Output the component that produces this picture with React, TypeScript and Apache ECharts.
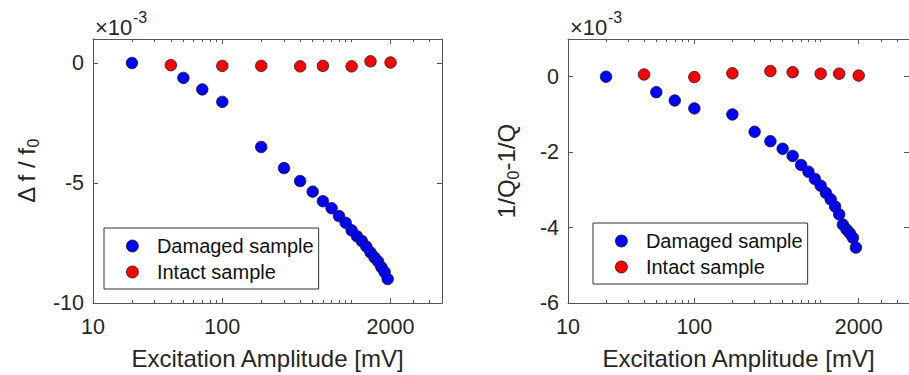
import React, { useEffect, useRef } from "react";
import * as echarts from "echarts";

// ---- data (values of the y axes are in units of 1e-3) ----
const ampDamaged = [20, 50, 70, 100, 200, 300, 400, 500, 600, 700, 800, 900, 1000, 1100, 1200, 1300, 1400, 1500, 1600, 1700, 1800, 1900];
const dfDamaged = [0, -0.62, -1.1, -1.62, -3.5, -4.38, -4.92, -5.36, -5.76, -6.05, -6.38, -6.66, -6.97, -7.22, -7.42, -7.65, -7.89, -8.09, -8.27, -8.51, -8.71, -9.0];
const dqDamaged = [0, -0.41, -0.63, -0.84, -1.0, -1.46, -1.71, -1.91, -2.1, -2.34, -2.52, -2.71, -2.89, -3.08, -3.25, -3.44, -3.65, -3.92, -4.05, -4.15, -4.27, -4.53];
const ampIntact = [40, 100, 200, 400, 600, 1000, 1400, 2000];
const dfIntact = [-0.09, -0.12, -0.12, -0.14, -0.12, -0.14, 0.07, 0.02];
const dqIntact = [0.06, -0.01, 0.09, 0.15, 0.12, 0.08, 0.08, 0.03];

const xTickLabels = [10, 100, 2000];
const xMinorTicks = [20, 30, 40, 50, 60, 70, 80, 90, 200, 300, 400, 500, 600, 700, 800, 900, 1000, 3000, 4000];
const yTicksLeft = [-10, -5, 0];
const yTicksRight = [-6, -4, -2, 0];

const seriesNames = ["Damaged sample", "Intact sample"];
const xName = "Excitation Amplitude [mV]";
const expBase = "×10";
const expPower = "-3";

const FONT = "Liberation Sans";
const TXT = "#262626";
const AX = "#555555";

function pairs(xs: number[], ys: number[]) {
  return xs.map((x, i) => [x, ys[i]]);
}

export default function App() {
  const ref = useRef<HTMLDivElement>(null);
  useEffect(() => {
    document.body.style.margin = "0";
    const chart = echarts.init(ref.current!, null, { renderer: "svg" });

    const grids = [
      { left: 93, top: 39, width: 349, height: 266 },
      { left: 568, top: 39, width: 347, height: 266 },
    ];
    const yConf = [
      { min: -10, max: 1, ticks: yTicksLeft, name: "{a|Δ f / f}{b|0}", gap: 52 },
      { min: -6, max: 1, ticks: yTicksRight, name: "{a|1/Q}{b|0}{a|-1/Q}", gap: 47 },
    ];
    const xAxes: any[] = [];
    const yAxes: any[] = [];
    grids.forEach((_, g) => {
      const base = {
        type: "log",
        logBase: 10,
        min: 10,
        max: 5000,
        gridIndex: g,
        splitLine: { show: false },
      };
      xAxes.push({
        ...base,
        position: "bottom",
        axisLine: { show: true, onZero: false, lineStyle: { color: AX, width: 1 } },
        axisTick: { show: true, inside: true, length: 5, customValues: xTickLabels, lineStyle: { color: AX } },
        axisLabel: {
          show: true,
          customValues: xTickLabels,
          formatter: (v: number) => String(Math.round(v)),
          margin: 13,
          fontSize: 21.5,
          color: TXT,
          fontFamily: FONT,
        },
        name: xName,
        nameLocation: "middle",
        nameGap: 43,
        nameTextStyle: { fontSize: 24, color: TXT, fontFamily: FONT },
      });
      xAxes.push({
        ...base,
        position: "bottom",
        axisLine: { show: false, onZero: false },
        axisTick: { show: true, inside: true, length: 3, customValues: xMinorTicks, lineStyle: { color: AX } },
        axisLabel: { show: false },
      });
      xAxes.push({
        ...base,
        position: "top",
        axisLine: { show: true, onZero: false, lineStyle: { color: AX, width: 1 } },
        axisTick: { show: true, inside: true, length: 5, customValues: xTickLabels, lineStyle: { color: AX } },
        axisLabel: { show: false },
      });
      xAxes.push({
        ...base,
        position: "top",
        axisLine: { show: false, onZero: false },
        axisTick: { show: true, inside: true, length: 3, customValues: xMinorTicks, lineStyle: { color: AX } },
        axisLabel: { show: false },
      });
      const yc = yConf[g];
      yAxes.push({
        type: "value",
        gridIndex: g,
        position: "left",
        min: yc.min,
        max: yc.max,
        splitLine: { show: false },
        axisLine: { show: true, onZero: false, lineStyle: { color: AX, width: 1 } },
        axisTick: { show: true, inside: true, length: 5, customValues: yc.ticks, lineStyle: { color: AX } },
        axisLabel: { show: true, customValues: yc.ticks, margin: 9, fontSize: 21.5, color: TXT, fontFamily: FONT },
        name: yc.name,
        nameLocation: "middle",
        nameRotate: 90,
        nameGap: yc.gap,
        nameTextStyle: {
          color: TXT,
          fontFamily: FONT,
          rich: {
            a: { fontSize: 24, color: TXT, fontFamily: FONT, lineHeight: 30, verticalAlign: "middle" },
            b: { fontSize: 16, color: TXT, fontFamily: FONT, lineHeight: 30, verticalAlign: "bottom" },
          },
        },
      });
      yAxes.push({
        type: "value",
        gridIndex: g,
        position: "right",
        min: yc.min,
        max: yc.max,
        splitLine: { show: false },
        axisLine: { show: true, onZero: false, lineStyle: { color: AX, width: 1 } },
        axisTick: { show: true, inside: true, length: 5, customValues: yc.ticks, lineStyle: { color: AX } },
        axisLabel: { show: false },
      });
    });

    const mk = (name: string, color: string, data: number[][], g: number) => ({
      type: "scatter",
      name,
      xAxisIndex: g * 4,
      yAxisIndex: g * 2,
      data,
      symbol: "circle",
      symbolSize: 11.5,
      itemStyle: { color, borderColor: "#1a1a1a", borderWidth: 0.8, opacity: 1 },
      emphasis: { disabled: true },
    });

    const legendBase = {
      orient: "vertical",
      data: seriesNames,
      icon: "circle",
      itemWidth: 39,
      itemHeight: 12,
      itemGap: 6,
      padding: [8, 5, 7, 22],
      borderColor: "#333",
      borderWidth: 1,
      backgroundColor: "#fff",
      borderRadius: 0,
      selectedMode: false,
      itemStyle: { borderColor: "#1a1a1a", borderWidth: 0.8 },
      textStyle: { fontSize: 20, color: "#111", fontFamily: FONT, lineHeight: 20 },
    };

    const ttl = (x: number, t: string, top: number, size: number) => ({
      text: t,
      left: x,
      top,
      padding: 0,
      textStyle: { fontSize: size, fontWeight: "normal", fontFamily: FONT, color: TXT, lineHeight: size },
    });

    chart.setOption({
      animation: false,
      textStyle: { fontFamily: FONT },
      title: [
        ttl(95, expBase, 16, 22),
        ttl(133, expPower, 9.5, 16),
        ttl(570, expBase, 16, 22),
        ttl(608, expPower, 9.5, 16),
      ],
      grid: grids,
      xAxis: xAxes,
      yAxis: yAxes,
      legend: [
        { ...legendBase, left: 104, top: 228 },
        { ...legendBase, left: 593, top: 223 },
      ],
      series: [
        mk(seriesNames[0], "#0000ff", pairs(ampDamaged, dfDamaged), 0),
        mk(seriesNames[1], "#ff0000", pairs(ampIntact, dfIntact), 0),
        mk(seriesNames[0], "#0000ff", pairs(ampDamaged, dqDamaged), 1),
        mk(seriesNames[1], "#ff0000", pairs(ampIntact, dqIntact), 1),
      ],
    });
    return () => chart.dispose();
  }, []);
  return <div ref={ref} style={{ width: 909, height: 375 }} />;
}
